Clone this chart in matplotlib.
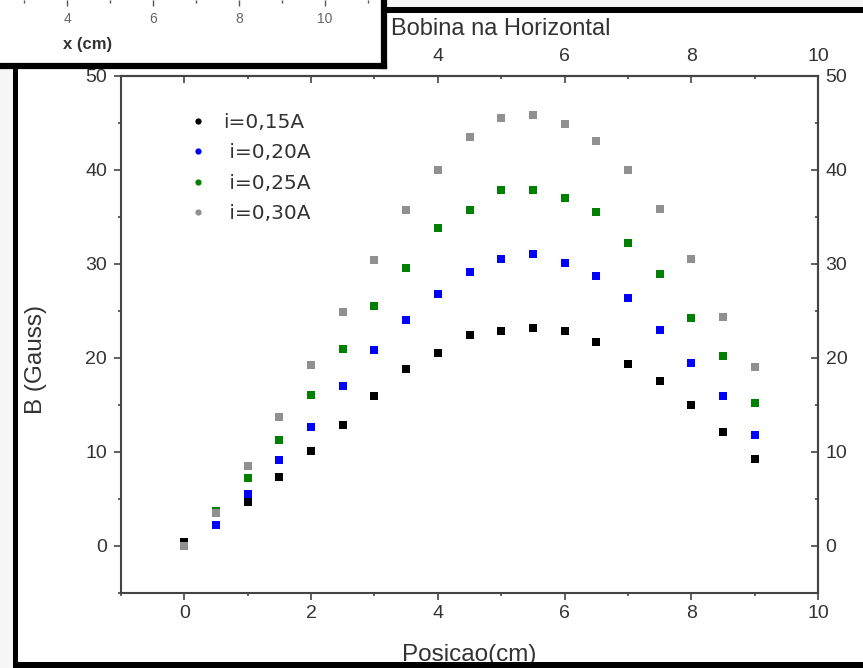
import matplotlib
matplotlib.use("Agg")
import matplotlib.pyplot as plt
from matplotlib.patches import Rectangle
from matplotlib.lines import Line2D
from matplotlib.ticker import MultipleLocator

# Posicao (cm) e campo B (Gauss) para cada corrente
posicao = [0, 0.5, 1, 1.5, 2, 2.5, 3, 3.5, 4, 4.5, 5, 5.5, 6, 6.5, 7, 7.5, 8, 8.5, 9]
b_015 = [0.4, 2.2, 4.7, 7.3, 10.1, 12.9, 16.0, 18.8, 20.5, 22.4, 22.9, 23.2, 22.9, 21.7, 19.4, 17.6, 15.0, 12.1, 9.3]
b_020 = [0.0, 2.2, 5.5, 9.1, 12.7, 17.0, 20.9, 24.0, 26.8, 29.2, 30.5, 31.1, 30.1, 28.7, 26.4, 23.0, 19.5, 16.0, 11.8]
b_025 = [0.0, 3.7, 7.2, 11.3, 16.1, 21.0, 25.5, 29.6, 33.8, 35.7, 37.9, 37.9, 37.0, 35.5, 32.2, 28.9, 24.3, 20.2, 15.2]
b_030 = [0.0, 3.5, 8.5, 13.7, 19.3, 24.9, 30.4, 35.7, 40.0, 43.5, 45.5, 45.9, 44.9, 43.1, 40.0, 35.8, 30.5, 24.4, 19.0]

series = [b_015, b_020, b_025, b_030]
labels = ["i=0,15A", " i=0,20A", " i=0,25A", " i=0,30A"]
colors = ["#000000", "#0000ff", "#008000", "#909090"]

# fragment of another chart pasted over the top-left corner
inset_ticks = [4, 6, 8, 10]

plt.rcParams["font.family"] = ["Liberation Sans", "DejaVu Sans"]
txt = "#333333"
axc = "#444444"

W, H = 863, 668
fig = plt.figure(figsize=(W / 100, H / 100), dpi=100)
fig.patch.set_facecolor("#f6f6f6")


def fx(px):
    return px / W


def fy(py):
    return 1 - py / H


# white page behind the chart
fig.add_artist(Rectangle((fx(13), 0), 1 - fx(13), 1 - 13 / H,
                         transform=fig.transFigure, facecolor="white",
                         edgecolor="none", zorder=-10))

ax = fig.add_axes([fx(121), fy(593), fx(818 - 121), (593 - 76) / H])
for vals, c in zip(series, colors):
    ax.plot(posicao, vals, linestyle="none", marker="s", markersize=5.3,
            markeredgewidth=0, color=c)

ax.set_xlim(-1, 10)
ax.set_ylim(-5, 50)
ax.xaxis.set_major_locator(MultipleLocator(2))
ax.xaxis.set_minor_locator(MultipleLocator(1))
ax.yaxis.set_major_locator(MultipleLocator(10))
ax.yaxis.set_minor_locator(MultipleLocator(5))

ax.tick_params(which="both", direction="out", labelsize=14, labelcolor=txt,
               color=axc, width=1.2)
ax.tick_params(which="major", length=5)
ax.tick_params(which="minor", length=2.5)
ax.tick_params(axis="x", which="major", pad=3.3)
ax.tick_params(axis="y", which="major", pad=5)

secx = ax.secondary_xaxis("top")
secx.xaxis.set_major_locator(MultipleLocator(2))
secx.xaxis.set_minor_locator(MultipleLocator(1))
secy = ax.secondary_yaxis("right")
secy.yaxis.set_major_locator(MultipleLocator(10))
secy.yaxis.set_minor_locator(MultipleLocator(5))
for sec, p in ((secx, 8), (secy, 5.5)):
    sec.tick_params(which="both", direction="in", labelsize=14, labelcolor=txt,
                    color=axc, width=1.2, pad=p)
    sec.tick_params(which="major", length=5)
    sec.tick_params(which="minor", length=2.5)
    for s in sec.spines.values():
        s.set_linewidth(1.5)
        s.set_color(axc)

for s in ax.spines.values():
    s.set_linewidth(1.5)
    s.set_color(axc)

ax.set_xlabel("Posicao(cm)", fontsize=17.5, color=txt)
ax.xaxis.set_label_coords(0.5, (593 - 655) / 517)
ax.xaxis.label.set_va("center")
ax.set_ylabel("B (Gauss)", fontsize=17.5, color=txt)
ax.yaxis.set_label_coords((36 - 121) / 697, (593 - 360) / 517)
ax.yaxis.label.set_va("center")

handles = [Line2D([], [], linestyle="none", marker="o", markersize=4.5,
                  markeredgewidth=0, color=c) for c in colors]
ax.legend(handles, labels, loc="upper left",
          bbox_to_anchor=((188 - 121) / 697, (593 - 113) / 517),
          frameon=False, borderaxespad=0, borderpad=0,
          prop={"family": "DejaVu Sans", "size": 14.5},
          labelcolor=txt, handletextpad=0.72, labelspacing=0.57,
          handlelength=1.0)

fig.text(fx(391), fy(29), "Bobina na Horizontal", fontsize=17, color=txt,
         ha="left", va="center")

# covering box with the fragment of the other chart
box = fig.add_axes([0, fy(66), fx(384), 66 / H], zorder=5)
box.set_facecolor("white")
box.set_xticks([])
box.set_yticks([])
box.spines["top"].set_visible(False)
box.spines["left"].set_visible(False)
for side in ("right", "bottom"):
    box.spines[side].set_linewidth(4.5)
    box.spines[side].set_color("black")

# scale of the pasted fragment: ticks hang from the top edge
scale = fig.add_axes([0, fy(10), fx(384), 10 / H], zorder=6)
scale.patch.set_visible(False)
for s in scale.spines.values():
    s.set_visible(False)
scale.set_xlim(4 - 67 / 43, 4 + (384 - 67) / 43)
scale.set_yticks([])
scale.set_xticks(inset_ticks)
scale.xaxis.set_minor_locator(MultipleLocator(1))
scale.tick_params(which="both", top=True, bottom=False, direction="in",
                  color="#555555", width=1)
scale.tick_params(which="major", length=4.5, labelsize=10,
                  labelcolor="#666666", pad=1.5)
scale.tick_params(which="minor", length=2)
fig.text(fx(88), fy(44), "x (cm)", fontsize=12, color="#333333",
         fontweight="bold", ha="center", va="center", zorder=7)

# black frame lines
for (x0, y0, x1, y1) in [(384, 7, 863, 13), (13, 64, 18, 668), (13, 662, 863, 668)]:
    fig.add_artist(Rectangle((fx(x0), fy(y1)), fx(x1 - x0), (y1 - y0) / H,
                             transform=fig.transFigure, facecolor="black",
                             edgecolor="none", zorder=10))

fig.savefig("out.png", dpi=100)
